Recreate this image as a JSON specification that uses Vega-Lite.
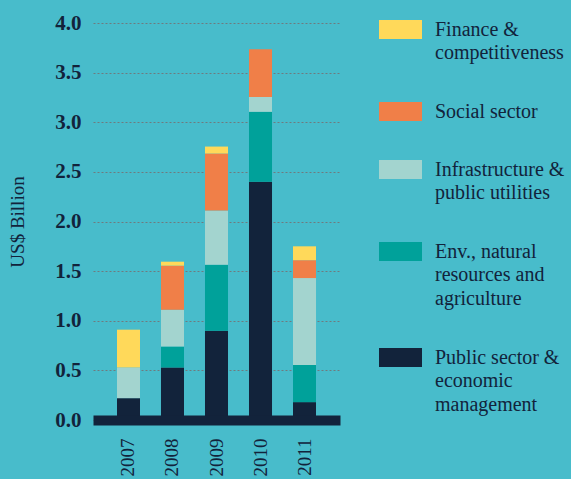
{
  "$schema": "https://vega.github.io/schema/vega-lite/v6.json",
  "width": 247,
  "height": 397,
  "autosize": "none",
  "padding": {"left": 93, "top": 23, "right": 231, "bottom": 59},
  "background": "#48BCCB",
  "config": {"view": {"stroke": null}, "font": "Liberation Serif"},
  "data": {
    "values": [
      {"year": "2007", "sector": "Public sector & economic management", "value": 0.22},
      {"year": "2007", "sector": "Env., natural resources and agriculture", "value": 0},
      {"year": "2007", "sector": "Infrastructure & public utilities", "value": 0.31},
      {"year": "2007", "sector": "Social sector", "value": 0},
      {"year": "2007", "sector": "Finance & competitiveness", "value": 0.38},
      {"year": "2008", "sector": "Public sector & economic management", "value": 0.53},
      {"year": "2008", "sector": "Env., natural resources and agriculture", "value": 0.21},
      {"year": "2008", "sector": "Infrastructure & public utilities", "value": 0.37},
      {"year": "2008", "sector": "Social sector", "value": 0.445},
      {"year": "2008", "sector": "Finance & competitiveness", "value": 0.04},
      {"year": "2009", "sector": "Public sector & economic management", "value": 0.9},
      {"year": "2009", "sector": "Env., natural resources and agriculture", "value": 0.665},
      {"year": "2009", "sector": "Infrastructure & public utilities", "value": 0.545},
      {"year": "2009", "sector": "Social sector", "value": 0.575},
      {"year": "2009", "sector": "Finance & competitiveness", "value": 0.07},
      {"year": "2010", "sector": "Public sector & economic management", "value": 2.4},
      {"year": "2010", "sector": "Env., natural resources and agriculture", "value": 0.705},
      {"year": "2010", "sector": "Infrastructure & public utilities", "value": 0.15},
      {"year": "2010", "sector": "Social sector", "value": 0.48},
      {"year": "2010", "sector": "Finance & competitiveness", "value": 0},
      {"year": "2011", "sector": "Public sector & economic management", "value": 0.18},
      {"year": "2011", "sector": "Env., natural resources and agriculture", "value": 0.375},
      {"year": "2011", "sector": "Infrastructure & public utilities", "value": 0.875},
      {"year": "2011", "sector": "Social sector", "value": 0.18},
      {"year": "2011", "sector": "Finance & competitiveness", "value": 0.14}
    ]
  },
  "transform": [
    {"calculate": "indexof(['Public sector & economic management', 'Env., natural resources and agriculture', 'Infrastructure & public utilities', 'Social sector', 'Finance & competitiveness'], datum.sector)", "as": "stackOrder"}
  ],
  "mark": {"type": "bar"},
  "encoding": {
    "x": {
      "field": "year",
      "type": "ordinal",
      "scale": {"paddingInner": 0.477, "paddingOuter": 0.545},
      "axis": {
        "title": null,
        "labelAngle": -90,
        "labelFont": "Liberation Serif",
        "labelFontSize": 19,
        "labelColor": "#12233B",
        "labelPadding": 18,
        "ticks": false,
        "domain": true,
        "domainColor": "#12233B",
        "domainWidth": 10,
        "zindex": 1
      }
    },
    "y": {
      "field": "value",
      "type": "quantitative",
      "stack": "zero",
      "scale": {"domain": [0, 4], "nice": false},
      "axis": {
        "title": "US$ Billion",
        "titleFont": "Liberation Serif",
        "titleFontWeight": "normal",
        "titleFontSize": 19,
        "titleColor": "#12233B",
        "titlePadding": 27,
        "values": [0, 0.5, 1, 1.5, 2, 2.5, 3, 3.5, 4],
        "format": ".1f",
        "labelFont": "Liberation Serif",
        "labelFontWeight": "bold",
        "labelFontSize": 21,
        "labelColor": "#12233B",
        "labelPadding": 12,
        "ticks": false,
        "domain": false,
        "grid": true,
        "gridColor": "#6f7a7e",
        "gridDash": [2, 2],
        "gridWidth": 1
      }
    },
    "order": {"field": "stackOrder", "type": "quantitative", "sort": "ascending"},
    "color": {
      "field": "sector",
      "type": "nominal",
      "sort": [
        "Finance & competitiveness",
        "Social sector",
        "Infrastructure & public utilities",
        "Env., natural resources and agriculture",
        "Public sector & economic management"
      ],
      "scale": {
        "domain": [
          "Finance & competitiveness",
          "Social sector",
          "Infrastructure & public utilities",
          "Env., natural resources and agriculture",
          "Public sector & economic management"
        ],
        "range": ["#FFD95A", "#F07F48", "#A3D4CF", "#00A19A", "#12233B"]
      },
      "legend": {
        "title": null,
        "orient": "none",
        "legendX": 286,
        "legendY": -15,
        "symbolType": "M-1,-0.442H1V0.442H-1Z",
        "symbolSize": 1849,
        "symbolStrokeWidth": 0,
        "symbolOpacity": 1,
        "labelFont": "Liberation Serif",
        "labelFontSize": 20,
        "labelColor": "#12233B",
        "labelOffset": 13,
        "labelLimit": 400,
        "labelBaseline": "top",
        "rowPadding": 26,
        "labelExpr": "datum.label == 'Finance & competitiveness' ? ['Finance &', 'competitiveness'] : datum.label == 'Infrastructure & public utilities' ? ['Infrastructure &', 'public utilities'] : datum.label == 'Env., natural resources and agriculture' ? ['Env., natural', 'resources and', 'agriculture'] : datum.label == 'Public sector & economic management' ? ['Public sector &', 'economic', 'management'] : datum.label",
        "encode": {"labels": {"update": {"lineHeight": {"value": 23.8}, "dy": {"value": -10}}}}
      }
    }
  }
}
